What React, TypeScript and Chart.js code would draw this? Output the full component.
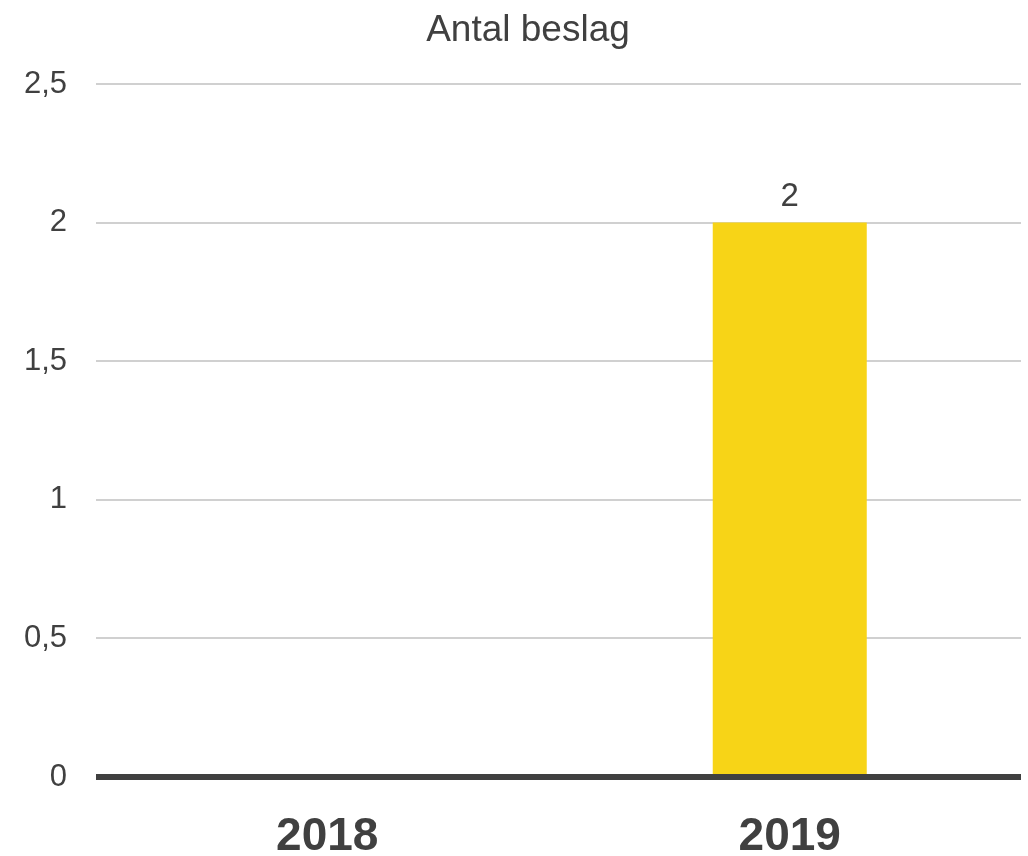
import React, { useEffect, useRef } from "react";
import { Chart, registerables } from "chart.js";

Chart.register(...registerables);

const titleText = "Antal beslag";
const categories = ["2018", "2019"];
const values: (number | null)[] = [null, 2];
const yTicks = [0, 0.5, 1, 1.5, 2, 2.5];

const FONT = "'Liberation Sans', Arial, sans-serif";
const TEXT = "#404040";

const overlay = {
  id: "overlay",
  afterDatasetsDraw(chart: any) {
    const ctx = chart.ctx;
    const area = chart.chartArea;
    const y0 = chart.scales.y.getPixelForValue(0);
    ctx.save();
    // zero axis line
    ctx.strokeStyle = "#404040";
    ctx.lineWidth = 6;
    ctx.beginPath();
    ctx.moveTo(area.left, y0);
    ctx.lineTo(area.right, y0);
    ctx.stroke();
    // value labels
    const meta = chart.getDatasetMeta(0);
    ctx.font = `33px ${FONT}`;
    ctx.fillStyle = TEXT;
    ctx.textAlign = "center";
    ctx.textBaseline = "alphabetic";
    meta.data.forEach((bar: any, i: number) => {
      const v = values[i];
      if (v === null || v === undefined) return;
      ctx.fillText(String(v), bar.x, bar.y - 17);
    });
    // title
    ctx.font = `37px ${FONT}`;
    ctx.fillText(titleText, 528, 41);
    ctx.restore();
  },
};

export default function App() {
  const ref = useRef<HTMLCanvasElement | null>(null);
  useEffect(() => {
    if (!ref.current) return;
    const chart = new Chart(ref.current, {
      type: "bar",
      data: {
        labels: categories,
        datasets: [
          {
            data: values,
            backgroundColor: "#F7D417",
            borderWidth: 0,
            categoryPercentage: 1,
            barPercentage: 0.333,
          },
        ],
      },
      options: {
        animation: false,
        responsive: true,
        maintainAspectRatio: false,
        layout: { padding: { left: 0, right: 7, top: 84, bottom: 0 } },
        plugins: {
          legend: { display: false },
          tooltip: { enabled: false },
          title: { display: false },
        },
        scales: {
          x: {
            grid: { display: false, drawTicks: false },
            border: { display: false },
            ticks: {
              color: TEXT,
              font: { family: FONT, size: 46, weight: "bold" },
              padding: 33,
            },
            afterFit: (s: any) => {
              s.height = 79;
            },
          },
          y: {
            min: 0,
            max: 2.5,
            afterBuildTicks: (s: any) => {
              s.ticks = yTicks.map((v) => ({ value: v }));
            },
            grid: { color: "#d0d0d0", lineWidth: 2, drawTicks: false },
            border: { display: false },
            ticks: {
              color: TEXT,
              font: { family: FONT, size: 31 },
              padding: 29,
              callback: (v: any) => String(v).replace(".", ","),
            },
            afterFit: (s: any) => {
              s.width = 96;
            },
          },
        },
      },
      plugins: [overlay],
    });
    return () => chart.destroy();
  }, []);
  return (
    <div style={{ position: "absolute", left: 0, top: 0, width: 1028, height: 856 }}>
      <canvas ref={ref} />
    </div>
  );
}
